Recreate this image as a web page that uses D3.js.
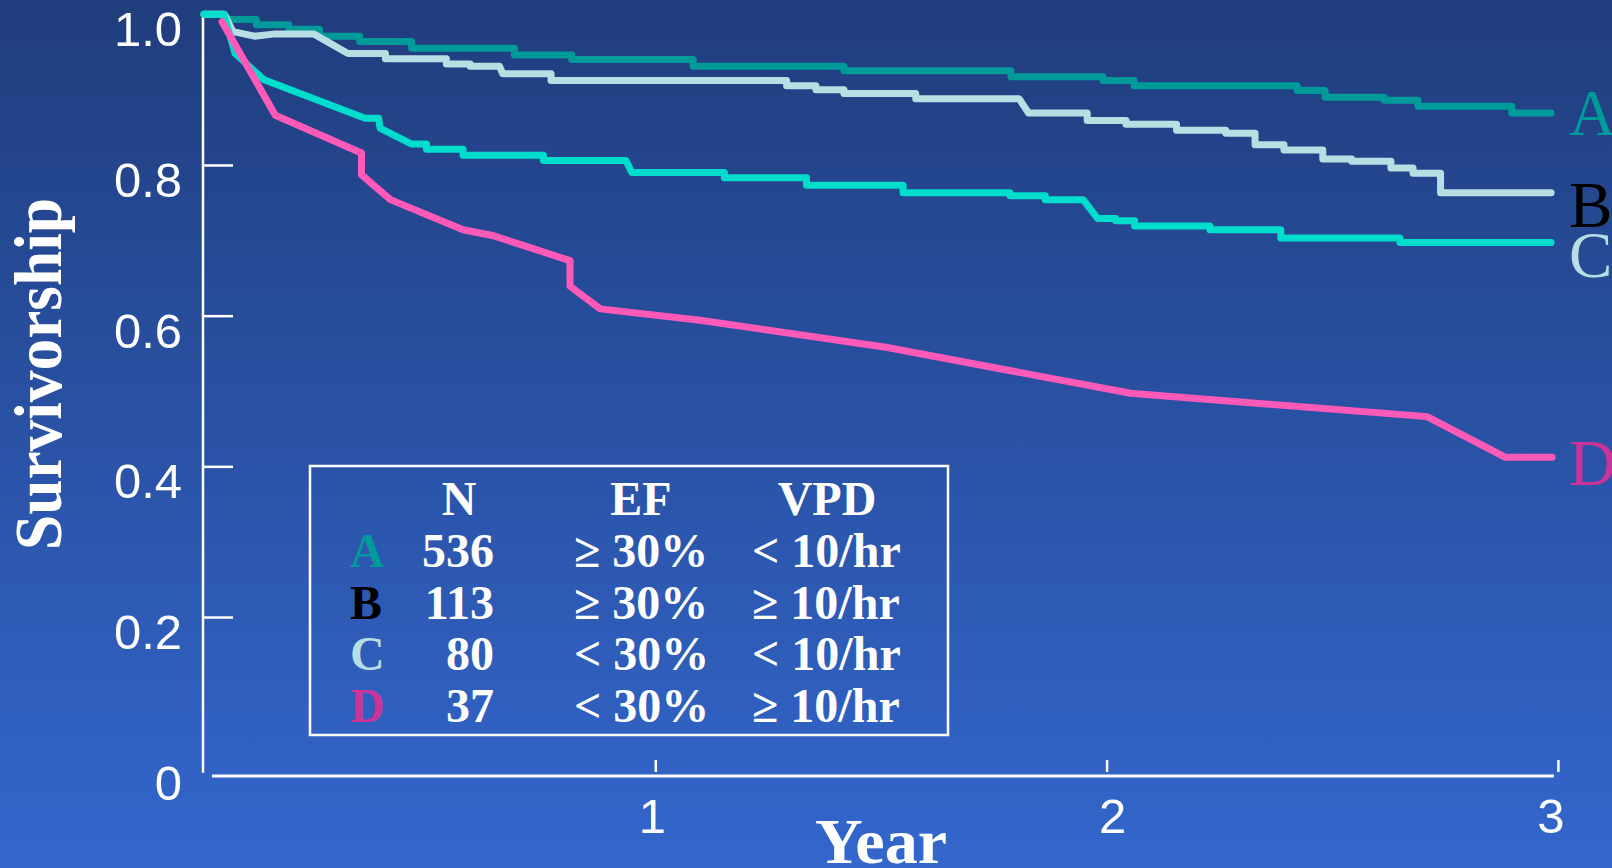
<!DOCTYPE html>
<html><head><meta charset="utf-8">
<script src="https://cdn.jsdelivr.net/npm/d3@7"></script>
<style>html,body{margin:0;padding:0;overflow:hidden;background:#2a52a8}</style>
</head><body><svg id="chart" width="1612" height="868"></svg>
<script>
// ---------- data (years, survival) ----------
const seriesNames = ["A", "B", "C", "D"];
const curveA = [[0,1.0],[0.045,1.0],[0.055,0.993],[0.116,0.993],[0.116,0.986],[0.188,0.986],[0.188,0.980],[0.256,0.980],[0.256,0.971],[0.345,0.971],[0.345,0.964],[0.460,0.964],[0.460,0.955],[0.688,0.955],[0.688,0.946],[0.815,0.946],[0.815,0.940],[1.084,0.940],[1.084,0.931],[1.418,0.931],[1.418,0.925],[1.788,0.925],[1.788,0.917],[1.992,0.917],[1.992,0.912],[2.061,0.912],[2.061,0.905],[2.422,0.905],[2.422,0.899],[2.484,0.899],[2.484,0.890],[2.615,0.890],[2.615,0.886],[2.690,0.886],[2.690,0.878],[2.898,0.878],[2.898,0.869],[2.985,0.869]];
const curveB = [[0,1.0],[0.045,1.0],[0.064,0.977],[0.112,0.971],[0.158,0.974],[0.243,0.974],[0.319,0.948],[0.402,0.948],[0.402,0.941],[0.537,0.941],[0.537,0.934],[0.590,0.934],[0.590,0.931],[0.655,0.931],[0.662,0.921],[0.769,0.921],[0.769,0.912],[1.291,0.912],[1.291,0.905],[1.356,0.905],[1.356,0.900],[1.418,0.900],[1.418,0.895],[1.577,0.895],[1.577,0.888],[1.806,0.888],[1.827,0.869],[1.957,0.869],[1.957,0.859],[2.043,0.859],[2.043,0.854],[2.155,0.854],[2.155,0.846],[2.264,0.846],[2.264,0.842],[2.329,0.842],[2.329,0.827],[2.393,0.827],[2.393,0.820],[2.479,0.820],[2.479,0.808],[2.543,0.808],[2.543,0.805],[2.630,0.805],[2.630,0.796],[2.679,0.796],[2.679,0.789],[2.740,0.789],[2.740,0.763],[2.985,0.763]];
const curveC = [[0,1.0],[0.044,1.0],[0.069,0.948],[0.133,0.913],[0.357,0.862],[0.387,0.862],[0.390,0.849],[0.459,0.828],[0.493,0.828],[0.493,0.821],[0.574,0.821],[0.574,0.813],[0.752,0.813],[0.752,0.806],[0.935,0.806],[0.948,0.790],[1.153,0.790],[1.153,0.783],[1.335,0.783],[1.335,0.773],[1.549,0.773],[1.549,0.763],[1.786,0.763],[1.786,0.759],[1.864,0.759],[1.864,0.754],[1.948,0.754],[1.980,0.729],[2.020,0.729],[2.020,0.726],[2.062,0.726],[2.062,0.719],[2.229,0.719],[2.229,0.714],[2.386,0.714],[2.386,0.703],[2.650,0.703],[2.650,0.697],[2.985,0.697]];
const curveD = [[0.040,0.990],[0.158,0.866],[0.349,0.816],[0.349,0.787],[0.413,0.754],[0.574,0.714],[0.642,0.706],[0.811,0.673],[0.811,0.639],[0.878,0.609],[1.099,0.594],[1.511,0.558],[2.053,0.497],[2.710,0.466],[2.884,0.412],[2.987,0.412]];
const curves = [curveA, curveB, curveC, curveD];

const yTickValues = [0.2, 0.4, 0.6, 0.8];
const yLabelValues = [0, 0.2, 0.4, 0.6, 0.8, 1.0];
const yLabelTexts = ["0", "0.2", "0.4", "0.6", "0.8", "1.0"];
const xTickValues = [1, 2, 3];
const xLabelTexts = ["1", "2", "3"];

const legendHeaders = ["N", "EF", "VPD"];
const legendN = ["536", "113", "80", "37"];
const legendEF = ["\u2265 30%", "\u2265 30%", "< 30%", "< 30%"];
const legendVPD = ["< 10/hr", "\u2265 10/hr", "< 10/hr", "\u2265 10/hr"];

// ---------- styles ----------
const lineColors = ["#009a9a", "#b7dee2", "#00ddcc", "#ff5ab8"];
const labelColors = ["#009a9a", "#000000", "#b7dee2", "#cc3399"];
const serif = "'Liberation Serif', 'Times New Roman', serif";
const sans = "'Liberation Sans', Arial, sans-serif";

const svg = d3.select("#chart");
const W = 1612, H = 868;

const defs = svg.append("defs");
const grad = defs.append("linearGradient").attr("id", "bg").attr("x1", 0).attr("y1", 0).attr("x2", 0).attr("y2", 1);
grad.append("stop").attr("offset", "0%").attr("stop-color", "#203d7d");
grad.append("stop").attr("offset", "100%").attr("stop-color", "#3367cd");
svg.append("rect").attr("width", W).attr("height", H).attr("fill", "url(#bg)");

const x = d3.scaleLinear().domain([0, 3]).range([204, 1557.9]);
const y = d3.scaleLinear().domain([0, 1]).range([767.7, 14.3]);

// y axis
const yAxisG = svg.append("g").attr("transform", `translate(${x(0) - 1},0)`)
  .call(d3.axisLeft(y).tickValues(yTickValues).tickSize(-30).tickFormat(""));
yAxisG.select(".domain").remove();
yAxisG.selectAll("line").attr("stroke", "#fff").attr("stroke-width", 2.5);
svg.append("line").attr("x1", x(0) - 1).attr("x2", x(0) - 1).attr("y1", y(1)).attr("y2", y(0) + 5)
  .attr("stroke", "#fff").attr("stroke-width", 2.5);

svg.append("g").selectAll("text").data(yLabelValues).join("text")
  .attr("x", x(0) - 22).attr("y", d => y(d) + 32)
  .attr("text-anchor", "end").attr("fill", "#fff")
  .style("font-family", sans).style("font-size", "49px")
  .text((d, i) => yLabelTexts[i]);

// x axis
const xAxisY = 776;
const xAxisG = svg.append("g").attr("transform", `translate(0,${xAxisY - 4})`)
  .call(d3.axisBottom(x).tickValues(xTickValues).tickSize(-12).tickFormat(""));
xAxisG.select(".domain").remove();
xAxisG.selectAll("line").attr("stroke", "#fff").attr("stroke-width", 2.5);
svg.append("line").attr("x1", x(0) + 8).attr("x2", x(3) - 4).attr("y1", xAxisY).attr("y2", xAxisY)
  .attr("stroke", "#fff").attr("stroke-width", 3);
const xLabelDx = [-3, 6, -7];
svg.append("g").selectAll("text").data(xTickValues).join("text")
  .attr("x", (d, i) => x(d) + xLabelDx[i]).attr("y", 833)
  .attr("text-anchor", "middle").attr("fill", "#fff")
  .style("font-family", sans).style("font-size", "49px")
  .text((d, i) => xLabelTexts[i]);

// axis titles
svg.append("text").attr("transform", "translate(61,374) rotate(-90)")
  .attr("text-anchor", "middle").attr("fill", "#fff")
  .attr("textLength", 352).attr("lengthAdjust", "spacingAndGlyphs")
  .style("font-family", serif).style("font-weight", "bold").style("font-size", "67px")
  .text("Survivorship");
svg.append("text").attr("x", 881).attr("y", 863)
  .attr("text-anchor", "middle").attr("fill", "#fff")
  .attr("textLength", 132).attr("lengthAdjust", "spacingAndGlyphs")
  .style("font-family", serif).style("font-weight", "bold").style("font-size", "64px")
  .text("Year");

// curves
const line = d3.line().x(d => x(d[0])).y(d => y(d[1]));
svg.append("g").selectAll("path").data(curves).join("path")
  .attr("d", line).attr("fill", "none")
  .attr("stroke", (d, i) => lineColors[i]).attr("stroke-width", 7)
  .attr("stroke-linecap", "round").attr("stroke-linejoin", "round");

// end labels
const endLabelDy = [22, 34, 34, 28];
svg.append("g").selectAll("text").data(curves).join("text")
  .attr("x", 1569).attr("y", (d, i) => y(d[d.length - 1][1]) + endLabelDy[i])
  .attr("fill", (d, i) => labelColors[i])
  .style("font-family", serif).style("font-size", "65px")
  .text((d, i) => seriesNames[i]);

// legend table
const lg = svg.append("g");
lg.append("rect").attr("x", 310).attr("y", 466).attr("width", 638).attr("height", 269)
  .attr("fill", "none").attr("stroke", "#fff").attr("stroke-width", 2.5);
const lgFont = t => t.style("font-family", serif).style("font-weight", "bold").style("font-size", "48px");
const headerX = [459, 641, 827];
lg.selectAll("text.h").data(legendHeaders).join("text").attr("class", "h")
  .attr("x", (d, i) => headerX[i]).attr("y", 515).attr("text-anchor", "middle")
  .attr("fill", "#fff").call(lgFont).text(d => d);
const rowY = i => 567 + i * 51.6;
lg.selectAll("text.g").data(seriesNames).join("text").attr("class", "g")
  .attr("x", 350).attr("y", (d, i) => rowY(i)).attr("fill", (d, i) => labelColors[i])
  .call(lgFont).text(d => d);
lg.selectAll("text.n").data(legendN).join("text").attr("class", "n")
  .attr("x", 494).attr("y", (d, i) => rowY(i)).attr("text-anchor", "end")
  .attr("fill", "#fff").call(lgFont).text(d => d);
lg.selectAll("text.ef").data(legendEF).join("text").attr("class", "ef")
  .attr("x", 574).attr("y", (d, i) => rowY(i)).attr("fill", "#fff").call(lgFont).text(d => d);
lg.selectAll("text.v").data(legendVPD).join("text").attr("class", "v")
  .attr("x", 752).attr("y", (d, i) => rowY(i)).attr("fill", "#fff").call(lgFont).text(d => d);
</script></body></html>
